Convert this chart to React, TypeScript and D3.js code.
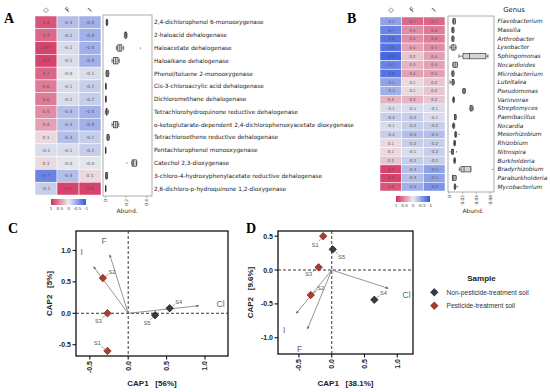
import React from 'react';
import * as d3 from 'd3';

// ---------- Panel A data ----------
const enzymes = [
  '2,4-dichlorophenol 6-monooxygenase',
  '2-haloacid dehalogenase',
  'Haloacetate dehalogenase',
  'Haloalkane dehalogenase',
  'Phenol/toluene 2-monooxygenase',
  'Cis-3-chloroacrylic acid dehalogenase',
  'Dichloromethane dehalogenase',
  'Tetrachlorohydroquinone reductive dehalogenase',
  'o-ketoglutarate-dependent 2,4-dichlorophenoxyacetate dioxygenase',
  'Tetrachloroethene reductive dehalogenase',
  'Pentachlorophenol monooxygenase',
  'Catechol 2,3-dioxygenase',
  '3-chloro-4-hydroxyphenylacetate reductive dehalogenase',
  '2,6-dichloro-p-hydroquinone 1,2-dioxygenase',
];
const enzymeCl = [0.8, 0.7, 0.9, 0.9, 0.7, 0.6, 0.6, 0.5, 0.4, 0.1, -0.1, 0.1, -0.7, -0.2];
const enzymeF = [-0.3, -0.2, -0.1, -0.1, -0.04, -0.1, -0.1, -0.3, -0.3, -0.3, -0.1, -0.04, -0.3, 0.9];
const enzymeI = [-0.4, -0.4, -0.4, -0.4, -0.1, -0.2, -0.2, -0.4, -0.4, -0.2, -0.2, -0.04, 0.1, 0.9];
const enzymeSig = ['', '', '*', '', '', '', '', '', '', '', '', '', '', ''];
// [min, q1, median, q3, max]
const enzymeAbund = [
  [0.008, 0.01, 0.015, 0.02, 0.023],
  [0.185, 0.19, 0.198, 0.205, 0.21],
  [0.107, 0.12, 0.14, 0.16, 0.177],
  [0.065, 0.08, 0.1, 0.123, 0.135],
  [0.005, 0.01, 0.02, 0.03, 0.035],
  [0.004, 0.005, 0.005, 0.006, 0.007],
  [0.004, 0.005, 0.005, 0.006, 0.007],
  [0.0, 0.008, 0.012, 0.018, 0.03],
  [0.065, 0.08, 0.1, 0.12, 0.13],
  [0.015, 0.018, 0.025, 0.035, 0.04],
  [0.002, 0.003, 0.003, 0.004, 0.005],
  [0.255, 0.26, 0.275, 0.3, 0.305],
  [0.003, 0.005, 0.012, 0.02, 0.022],
  [0.002, 0.003, 0.003, 0.004, 0.005],
];
const enzymeOutliers = [[], [], [0.34], [], [], [], [], [], [], [], [], [0.21], [], []];
const enzymeAbundTicks = [0, 0.2, 0.4];

// ---------- Panel B data ----------
const genera = [
  'Flavobacterium', 'Massilia', 'Arthrobacter', 'Lysobacter', 'Sphingomonas',
  'Nocardioides', 'Microbacterium', 'Luteitalea', 'Pseudomonas', 'Variovorax',
  'Streptomyces', 'Paenibacillus', 'Nocardia', 'Mesorhizobium', 'Rhizobium',
  'Nitrospira', 'Burkholderia', 'Bradyrhizobium', 'Paraburkholderia', 'Mycobacterium',
];
const genusCl = [-0.5, -0.7, -0.8, -0.8, -0.9, -0.7, -0.8, -0.5, -0.4, 0.3, -0.1, -0.2, -0.1, -0.2, 0.1, 0.1, 0.2, 0.9, 0.9, 0.8];
const genusF = [0.7, 0.5, 0.5, 0.4, 0.2, 0.3, 0.4, 0.1, 0.1, 0.3, -0.1, -0.2, -0.2, -0.3, -0.2, -0.1, -0.2, -0.3, -0.3, -0.4];
const genusI = [0.7, 0.6, 0.6, 0.5, 0.4, 0.4, 0.4, 0.2, 0.2, 0.2, -0.1, -0.1, -0.2, -0.3, -0.2, -0.2, -0.2, -0.5, -0.5, -0.6];
const genusAbund = [
  [0.0055, 0.006, 0.007, 0.009, 0.0095],
  [0.004, 0.0045, 0.0055, 0.007, 0.0075],
  [0.004, 0.0045, 0.0055, 0.007, 0.0075],
  [0.0015, 0.004, 0.006, 0.009, 0.0105],
  [0.0146, 0.0205, 0.03, 0.054, 0.057],
  [0.0055, 0.006, 0.009, 0.012, 0.0125],
  [0.004, 0.0045, 0.0055, 0.007, 0.0075],
  [0.0015, 0.0045, 0.0055, 0.007, 0.008],
  [0.02, 0.0205, 0.022, 0.0235, 0.024],
  [0.0055, 0.006, 0.0065, 0.0075, 0.008],
  [0.0305, 0.031, 0.0325, 0.034, 0.0355],
  [0.008, 0.0083, 0.009, 0.0102, 0.0105],
  [0.005, 0.006, 0.0065, 0.0075, 0.0085],
  [0.0085, 0.0088, 0.0095, 0.011, 0.0112],
  [0.007, 0.0075, 0.008, 0.009, 0.0095],
  [0.0038, 0.004, 0.005, 0.0063, 0.0066],
  [0.007, 0.0075, 0.008, 0.009, 0.0095],
  [0.015, 0.0176, 0.022, 0.032, 0.032],
  [0.005, 0.0054, 0.007, 0.0102, 0.0105],
  [0.0075, 0.0078, 0.0088, 0.0098, 0.01],
];
const genusOutliers = [[], [], [], [], [], [], [], [], [], [], [], [], [], [0.0146], [], [0.0015, 0.011], [], [0.064], [], [0.0122]];
const genusAbundTicks = [0, 0.02, 0.04, 0.06];

const headerLabels = ['\u25C7', 'F', 'I'];
const colorbarTicks = [1, 0.5, 0, -0.5, -1];

// ---------- Panels C & D data ----------
const samples = ['S1', 'S2', 'S3', 'S4', 'S5'];
const sampleGroup = ['P', 'P', 'P', 'N', 'N'];
const capC1 = [-0.27, -0.33, -0.27, 0.54, 0.35];
const capC2 = [-0.6, 0.56, 0.0, 0.08, -0.03];
const capD1 = [-0.13, -0.32, -0.2, 0.65, 0.015];
const capD2 = [0.5, -0.37, 0.04, -0.44, 0.305];
const envNames = ['Cl', 'F', 'I'];
const envC1 = [0.92, -0.24, -0.45];
const envC2 = [0.12, 0.93, 0.74];
const envD1 = [0.86, -0.37, -0.54];
const envD2 = [-0.27, -0.87, -0.64];
const capTicks = [-0.5, 0.0, 0.5, 1.0];
const capDTicksY = [0.5, 0.0, -0.5, -1.0];
const legendLabels = ['Non-pesticide-treatment soil', 'Pesticide-treatment soil'];

// ---------- layout (styles/positions) ----------
const heatFont = 'DejaVu Sans, Verdana, sans-serif';
const plotFont = 'Liberation Sans, Arial, Helvetica, sans-serif';
const serif = 'Liberation Serif, Times New Roman, serif';
const RED = '#b23a2c';
const DARK = '#2f3c48';

const color = d3
  .scaleLinear<string>()
  .domain([-1, 0, 1])
  .range(['#3157e2', '#ececec', '#d4305f'])
  .interpolate(d3.interpolateRgb)
  .clamp(true);

function Heatmap(props: { rows: string[]; cols: number[][]; sig?: string[]; x0: number; x1: number; y0: number; y1: number; fs: number }) {
  const { rows, cols, sig, x0, x1, y0, y1, fs } = props;
  const x = d3.scaleBand<number>().domain([0, 1, 2]).range([x0, x1]);
  const y = d3.scaleBand<string>().domain(rows).range([y0, y1]);
  return (
    <g>
      {rows.map((r, i) =>
        cols.map((col, j) => (
          <g key={r + j}>
            <rect x={x(j)!} y={y(r)!} width={x.bandwidth()} height={y.bandwidth()} fill={color(col[i])} stroke="#fff" strokeWidth={0.5} />
            <text x={x(j)! + x.bandwidth() / 2} y={y(r)! + y.bandwidth() / 2} fontSize={fs} fill="#555" textAnchor="middle" dominantBaseline="central" fontFamily={heatFont}>
              {col[i].toFixed(1)}
              {j === 0 && sig && sig[i] ? ' ' + sig[i] : ''}
            </text>
          </g>
        ))
      )}
      {headerLabels.map((h, j) => (
        <text key={h} transform={`translate(${x(j)! + x.bandwidth() / 2},${10}) rotate(${j === 0 ? 0 : -45})`} fontSize={7} textAnchor="middle" dominantBaseline="central" fill="#333" fontFamily={heatFont}>
          {h}
        </text>
      ))}
    </g>
  );
}

function Colorbar(props: { id: string; x0: number; x1: number; y: number }) {
  const { id, x0, x1, y } = props;
  const s = d3.scaleLinear().domain([1, -1]).range([x0, x1]);
  const stops = d3.range(0, 1.0001, 0.1);
  return (
    <g>
      <defs>
        <linearGradient id={id} x1="0" x2="1" y1="0" y2="0">
          {stops.map((t) => (
            <stop key={t} offset={`${t * 100}%`} stopColor={color(1 - 2 * t)} />
          ))}
        </linearGradient>
      </defs>
      <rect x={x0} y={y} width={x1 - x0} height={6} fill={`url(#${id})`} />
      {colorbarTicks.map((t) => (
        <text key={t} x={s(t)} y={y + 10.5} fontSize={4.2} textAnchor="middle" fill="#444" fontFamily={heatFont}>
          {t}
        </text>
      ))}
    </g>
  );
}

function BoxPanel(props: {
  rows: string[]; stats: number[][]; outliers: number[][]; ticks: number[];
  domain: [number, number]; range: [number, number]; frame: [number, number, number, number];
  bandY: [number, number]; boxFrac: number; fmt: (v: number) => string;
}) {
  const { rows, stats, outliers, ticks, domain, range, frame, bandY, boxFrac, fmt } = props;
  const x = d3.scaleLinear().domain(domain).range(range);
  const y = d3.scaleBand<string>().domain(rows).range(bandY);
  const [fx0, fy0, fx1, fy1] = frame;
  const bh = y.bandwidth() * boxFrac;
  return (
    <g>
      <rect x={fx0} y={fy0} width={fx1 - fx0} height={fy1 - fy0} fill="none" stroke="#777" strokeWidth={0.6} />
      {rows.map((r, i) => {
        const [mn, q1, md, q3, mx] = stats[i];
        const cy = y(r)! + y.bandwidth() / 2;
        return (
          <g key={r} stroke="#222" strokeWidth={0.6}>
            <line x1={x(mn)} x2={x(q1)} y1={cy} y2={cy} />
            <line x1={x(q3)} x2={x(mx)} y1={cy} y2={cy} />
            <line x1={x(mn)} x2={x(mn)} y1={cy - bh * 0.35} y2={cy + bh * 0.35} />
            <line x1={x(mx)} x2={x(mx)} y1={cy - bh * 0.35} y2={cy + bh * 0.35} />
            <rect x={x(q1)} y={cy - bh / 2} width={Math.max(0.3, x(q3) - x(q1))} height={bh} fill="#d4d4d4" />
            <line x1={x(md)} x2={x(md)} y1={cy - bh / 2} y2={cy + bh / 2} />
            {outliers[i].map((o, k) => (
              <circle key={k} cx={x(o)} cy={cy} r={0.55} fill="#222" stroke="none" />
            ))}
          </g>
        );
      })}
      {ticks.map((t) => (
        <g key={t}>
          <line x1={x(t)} x2={x(t)} y1={fy1} y2={fy1 + 2} stroke="#777" strokeWidth={0.5} />
          <text transform={`translate(${x(t) + 1.5},${fy1 + 3}) rotate(-90)`} fontSize={4.3} textAnchor="end" fill="#444" fontFamily={heatFont}>
            {fmt(t)}
          </text>
        </g>
      ))}
    </g>
  );
}

const diamond = d3.symbol().type(d3.symbolSquare).size(28)()!;

function CapPanel(props: {
  xDomain: [number, number]; yDomain: [number, number]; frame: [number, number, number, number];
  px: number[]; py: number[]; ex: number[]; ey: number[]; xTicks: number[]; yTicks: number[];
  labelOff: number[][]; envLabelPos: number[][]; xLabel: string; yLabel: string; yLabelX: number;
}) {
  const { xDomain, yDomain, frame, px, py, ex, ey, xTicks, yTicks, labelOff, envLabelPos, xLabel, yLabel, yLabelX } = props;
  const [l, t, r, b] = frame;
  const x = d3.scaleLinear().domain(xDomain).range([l, r]);
  const y = d3.scaleLinear().domain(yDomain).range([b, t]);
  const cx = (l + r) / 2;
  const cy = (t + b) / 2;
  return (
    <g fontFamily={plotFont}>
      <line x1={x(0)} x2={x(0)} y1={t} y2={b} stroke="#222" strokeWidth={0.9} strokeDasharray="3,2" />
      <line x1={l} x2={r} y1={y(0)} y2={y(0)} stroke="#222" strokeWidth={0.9} strokeDasharray="3,2" />
      {envNames.map((n, i) => (
        <g key={n}>
          <line x1={x(0)} y1={y(0)} x2={x(ex[i])} y2={y(ey[i])} stroke="#7a7a7a" strokeWidth={0.8} markerEnd="url(#arrowHead)" />
          <text x={envLabelPos[i][0]} y={envLabelPos[i][1]} fontSize={8.5} fill="#666">
            {n}
          </text>
        </g>
      ))}
      {samples.map((s, i) => {
        const X = x(px[i]);
        const Y = y(py[i]);
        const [dx, dy] = labelOff[i];
        return (
          <g key={s}>
            <line x1={X + dx * 0.6} y1={Y + dy * 0.6} x2={X + dx * 0.25} y2={Y + dy * 0.25} stroke="#555" strokeWidth={0.5} />
            <path d={diamond} transform={`translate(${X},${Y}) rotate(45)`} fill={sampleGroup[i] === 'P' ? RED : DARK} stroke={sampleGroup[i] === 'P' ? '#5e1a12' : '#111'} strokeWidth={0.6} />
            <text x={X + dx} y={Y + dy} fontSize={5.6} fill="#555" textAnchor="middle" dominantBaseline="central">
              {s}
            </text>
          </g>
        );
      })}
      <rect x={l} y={t} width={r - l} height={b - t} fill="none" stroke="#111" strokeWidth={1.3} />
      {yTicks.map((v) => (
        <g key={v}>
          <line x1={l - 3.5} x2={l} y1={y(v)} y2={y(v)} stroke="#111" strokeWidth={1.1} />
          <text x={l - 5} y={y(v)} fontSize={7} fontWeight="bold" textAnchor="end" dominantBaseline="central" fill="#222">
            {v.toFixed(1)}
          </text>
        </g>
      ))}
      {xTicks.map((v) => (
        <g key={v}>
          <line x1={x(v)} x2={x(v)} y1={b} y2={b + 3.5} stroke="#111" strokeWidth={1.1} />
          <text transform={`translate(${x(v)},${b + 5}) rotate(-90)`} fontSize={7} fontWeight="bold" textAnchor="end" dominantBaseline="central" fill="#222">
            {v.toFixed(1)}
          </text>
        </g>
      ))}
      <text x={cx} y={386} fontSize={8} fontWeight="bold" textAnchor="middle" fill="#222" style={{ whiteSpace: 'pre' }}>
        {xLabel}
      </text>
      <text transform={`translate(${yLabelX},${cy}) rotate(-90)`} fontSize={8} fontWeight="bold" textAnchor="middle" dominantBaseline="central" fill="#222" style={{ whiteSpace: 'pre' }}>
        {yLabel}
      </text>
    </g>
  );
}

export default function App() {
  return (
    <svg width={550} height={392} viewBox="0 0 550 392" style={{ position: 'absolute', left: 0, top: 0, background: '#fff' }}>
      <defs>
        <marker id="arrowHead" viewBox="0 0 10 10" refX="8" refY="5" markerWidth="4" markerHeight="4" orient="auto">
          <path d="M0,1L10,5L0,9z" fill="#666" />
        </marker>
      </defs>
      <rect width={550} height={392} fill="#fff" />

      {/* Panel A */}
      <text x={4} y={23} fontSize={14} fontWeight="bold" fontFamily={serif}>A</text>
      <Heatmap rows={enzymes} cols={[enzymeCl, enzymeF, enzymeI]} sig={enzymeSig} x0={35} x1={101} y0={16} y1={195} fs={4.4} />
      <Colorbar id="cbA" x0={51} x1={86} y={199} />
      <BoxPanel rows={enzymes} stats={enzymeAbund} outliers={enzymeOutliers} ticks={enzymeAbundTicks}
        domain={[0, 0.4]} range={[105.3, 146.7]} frame={[103, 15, 152, 196]} bandY={[16, 195]} boxFrac={0.5}
        fmt={(v) => (v === 0 ? '0' : v.toFixed(1))} />
      <text x={127} y={213} fontSize={6} textAnchor="middle" fill="#333" fontFamily={heatFont}>Abund.</text>
      {(() => {
        const y = d3.scaleBand<string>().domain(enzymes).range([16, 195]);
        return enzymes.map((e) => (
          <text key={e} x={154} y={y(e)! + y.bandwidth() / 2} fontSize={5.8} dominantBaseline="central" fill="#222" fontFamily={heatFont}>
            {e}
          </text>
        ));
      })()}

      {/* Panel B */}
      <text x={347} y={23} fontSize={14} fontWeight="bold" fontFamily={serif}>B</text>
      <Heatmap rows={genera} cols={[genusCl, genusF, genusI]} x0={380} x1={445} y0={17} y1={191} fs={3.9} />
      <Colorbar id="cbB" x0={396} x1={430} y={196} />
      <BoxPanel rows={genera} stats={genusAbund} outliers={genusOutliers} ticks={genusAbundTicks}
        domain={[0, 0.06]} range={[449, 490]} frame={[448, 16, 494, 192]} bandY={[17, 191]} boxFrac={0.62}
        fmt={(v) => (v === 0 ? '0' : v.toFixed(2))} />
      <text x={473} y={213} fontSize={6} textAnchor="middle" fill="#333" fontFamily={heatFont}>Abund.</text>
      <text x={514} y={12} fontSize={6.8} textAnchor="middle" fill="#222" fontFamily={heatFont}>Genus</text>
      {(() => {
        const y = d3.scaleBand<string>().domain(genera).range([17, 191]);
        return genera.map((g) => (
          <text key={g} x={497.5} y={y(g)! + y.bandwidth() / 2} fontSize={5.8} fontStyle="italic" dominantBaseline="central" fill="#222" fontFamily={heatFont}>
            {g}
          </text>
        ));
      })()}

      {/* Panel C */}
      <text x={8} y={233} fontSize={14} fontWeight="bold" fontFamily={serif}>C</text>
      <CapPanel xDomain={[-0.68, 1.3]} yDomain={[-0.68, 1.31]} frame={[76, 231, 228, 356]}
        px={capC1} py={capC2} ex={envC1} ey={envC2} xTicks={capTicks} yTicks={[-0.5, 0.0, 0.5, 1.0]}
        labelOff={[[-10, -8], [9, -6.5], [-9, 8], [9, -6.5], [-8, 8]]}
        envLabelPos={[[216.5, 307], [101.5, 244], [80.5, 255]]}
        xLabel={'CAP1   [56%]'} yLabel={'CAP2   [5%]'} yLabelX={49} />

      {/* Panel D */}
      <text x={246} y={233} fontSize={14} fontWeight="bold" fontFamily={serif}>D</text>
      <CapPanel xDomain={[-0.82, 1.24]} yDomain={[-1.24, 0.576]} frame={[278, 231, 413, 354]}
        px={capD1} py={capD2} ex={envD1} ey={envD2} xTicks={capTicks} yTicks={capDTicksY}
        labelOff={[[-8, 9], [10, -7], [-10, 7], [9, -7], [9, 8]]}
        envLabelPos={[[402.5, 298], [297, 352], [283, 333]]}
        xLabel={'CAP1   [38.1%]'} yLabel={'CAP2   [9.6%]'} yLabelX={250} />

      {/* Legend */}
      <g fontFamily={plotFont}>
        <text x={481.5} y={281} fontSize={8} fontWeight="bold" textAnchor="middle" fill="#222">Sample</text>
        {legendLabels.map((lab, i) => (
          <g key={lab}>
            <path d={diamond} transform={`translate(${434.3},${292.3 + i * 13.4}) rotate(45)`} fill={i === 0 ? DARK : RED} stroke={i === 0 ? '#111' : '#5e1a12'} strokeWidth={0.6} />
            <text x={446.5} y={292.3 + i * 13.4} fontSize={6.6} dominantBaseline="central" fill="#333">{lab}</text>
          </g>
        ))}
      </g>
    </svg>
  );
}
